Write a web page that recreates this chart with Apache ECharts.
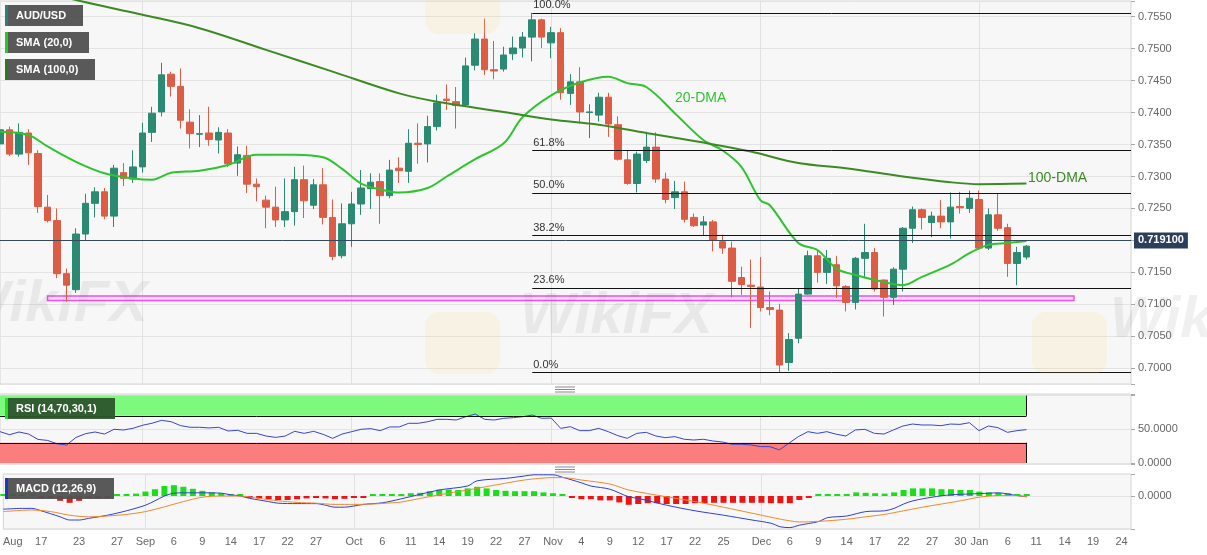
<!DOCTYPE html>
<html>
<head>
<meta charset="utf-8">
<title>AUD/USD daily</title>
<script src="https://cdn.jsdelivr.net/npm/echarts@6/dist/echarts.min.js"></script>
<style>
  html, body { margin: 0; padding: 0; background: #fff; }
  #main { width: 1207px; height: 555px; }
</style>
</head>
<body>
<div id="main"></div>
<script>
// trading days Aug 11 2021 .. Jan 25 2022 (weekdays)
var categories = [];
(function () {
  for (var d = Date.UTC(2021, 7, 11); d <= Date.UTC(2022, 0, 25); d += 864e5) {
    var t = new Date(d), w = t.getUTCDay();
    if (w > 0 && w < 6) categories.push(t.toISOString().slice(0, 10));
  }
})();

// bottom axis labels
var tickDates = ['2021-08-12','2021-08-17','2021-08-23','2021-08-27','2021-09-01','2021-09-06','2021-09-09','2021-09-14',
  '2021-09-17','2021-09-22','2021-09-27','2021-10-01','2021-10-06','2021-10-11','2021-10-14','2021-10-19','2021-10-22',
  '2021-10-27','2021-11-01','2021-11-04','2021-11-09','2021-11-12','2021-11-17','2021-11-22','2021-11-25','2021-12-01',
  '2021-12-06','2021-12-09','2021-12-14','2021-12-17','2021-12-22','2021-12-27','2021-12-30','2022-01-03','2022-01-06',
  '2022-01-11','2022-01-14','2022-01-19','2022-01-24'];
var tickTexts = ['Aug','17','23','27','Sep','6','9','14','17','22','27','Oct','6','11','14','19','22','27','Nov','4','9',
  '12','17','22','25','Dec','6','9','14','17','22','27','30','Jan','6','11','14','19','24'];
var monthLines = ['2021-09-01','2021-10-01','2021-11-01','2021-12-01','2022-01-03'];

// daily candles [open, close, low, high] from Aug 11 2021 to Jan 10 2022
var candles = [
  [0.7351,0.7373,0.7323,0.7390],[0.7373,0.7335,0.7332,0.7378],[0.7335,0.7369,0.7331,0.7383],[0.7368,0.7337,0.7318,0.7374],
  [0.7336,0.7253,0.7243,0.7341],[0.7252,0.7231,0.7228,0.7271],[0.7231,0.7148,0.7141,0.7250],[0.7148,0.7130,0.7104,0.7156],
  [0.7123,0.7210,0.7118,0.7219],[0.7210,0.7258,0.7200,0.7273],[0.7258,0.7276,0.7236,0.7283],[0.7276,0.7238,0.7233,0.7282],
  [0.7238,0.7313,0.7221,0.7318],[0.7306,0.7297,0.7285,0.7321],[0.7296,0.7315,0.7290,0.7341],[0.7315,0.7368,0.7306,0.7384],
  [0.7369,0.7399,0.7354,0.7409],[0.7401,0.7459,0.7394,0.7478],[0.7460,0.7441,0.7425,0.7464],[0.7441,0.7388,0.7375,0.7469],
  [0.7385,0.7367,0.7344,0.7405],[0.7366,0.7367,0.7346,0.7396],[0.7368,0.7358,0.7348,0.7409],[0.7357,0.7369,0.7336,0.7377],
  [0.7368,0.7320,0.7315,0.7374],[0.7321,0.7334,0.7301,0.7347],[0.7333,0.7288,0.7274,0.7348],[0.7288,0.7284,0.7261,0.7297],
  [0.7263,0.7252,0.7219,0.7270],[0.7252,0.7232,0.7221,0.7284],[0.7232,0.7245,0.7221,0.7297],[0.7245,0.7295,0.7223,0.7315],
  [0.7295,0.7262,0.7235,0.7317],[0.7255,0.7287,0.7249,0.7296],[0.7287,0.7236,0.7225,0.7313],[0.7236,0.7175,0.7169,0.7264],
  [0.7176,0.7226,0.7172,0.7258],[0.7226,0.7257,0.7190,0.7276],[0.7257,0.7282,0.7240,0.7310],[0.7281,0.7291,0.7249,0.7305],
  [0.7292,0.7270,0.7226,0.7305],[0.7270,0.7310,0.7266,0.7326],[0.7313,0.7309,0.7290,0.7330],[0.7308,0.7352,0.7290,0.7374],
  [0.7352,0.7350,0.7320,0.7383],[0.7351,0.7378,0.7322,0.7395],[0.7378,0.7415,0.7372,0.7428],[0.7421,0.7419,0.7404,0.7444],
  [0.7417,0.7411,0.7375,0.7440],[0.7412,0.7473,0.7409,0.7486],[0.7474,0.7515,0.7466,0.7524],[0.7515,0.7467,0.7459,0.7547],
  [0.7467,0.7465,0.7452,0.7512],[0.7468,0.7490,0.7464,0.7503],[0.7492,0.7501,0.7482,0.7519],[0.7501,0.7518,0.7486,0.7526],
  [0.7518,0.7545,0.7480,0.7556],[0.7545,0.7518,0.7501,0.7547],[0.7509,0.7525,0.7485,0.7534],[0.7525,0.7431,0.7420,0.7532],
  [0.7430,0.7448,0.7412,0.7460],[0.7448,0.7401,0.7383,0.7471],[0.7400,0.7401,0.7360,0.7413],[0.7396,0.7424,0.7386,0.7431],
  [0.7424,0.7382,0.7362,0.7431],[0.7381,0.7327,0.7325,0.7394],[0.7326,0.7289,0.7287,0.7341],[0.7289,0.7335,0.7275,0.7339],
  [0.7325,0.7346,0.7321,0.7370],[0.7346,0.7296,0.7290,0.7369],[0.7296,0.7264,0.7258,0.7306],[0.7267,0.7276,0.7249,0.7293],
  [0.7276,0.7233,0.7228,0.7292],[0.7236,0.7223,0.7221,0.7242],[0.7224,0.7229,0.7207,0.7238],[0.7229,0.7200,0.7183,0.7232],
  [0.7198,0.7188,0.7179,0.7209],[0.7188,0.7136,0.7111,0.7198],[0.7142,0.7131,0.7115,0.7159],[0.7130,0.7128,0.7063,0.7170],
  [0.7127,0.7095,0.7089,0.7174],[0.7095,0.7092,0.7083,0.7120],[0.7091,0.7005,0.6993,0.7101],[0.7009,0.7045,0.6996,0.7055],
  [0.7047,0.7116,0.7039,0.7124],[0.7116,0.7176,0.7115,0.7184],[0.7176,0.7150,0.7134,0.7184],[0.7150,0.7172,0.7132,0.7185],
  [0.7162,0.7129,0.7110,0.7176],[0.7128,0.7103,0.7089,0.7130],[0.7103,0.7172,0.7092,0.7174],[0.7172,0.7181,0.7141,0.7226],
  [0.7181,0.7124,0.7120,0.7188],[0.7138,0.7111,0.7081,0.7139],[0.7111,0.7155,0.7099,0.7158],[0.7155,0.7219,0.7120,0.7221],
  [0.7219,0.7248,0.7196,0.7253],[0.7248,0.7236,0.7217,0.7250],[0.7228,0.7238,0.7205,0.7245],[0.7238,0.7229,0.7219,0.7263],
  [0.7229,0.7252,0.7203,0.7275],[0.7253,0.7251,0.7242,0.7276],[0.7250,0.7266,0.7243,0.7278],[0.7264,0.7188,0.7185,0.7278],
  [0.7188,0.7240,0.7185,0.7250],[0.7240,0.7219,0.7215,0.7274],[0.7220,0.7164,0.7143,0.7226],[0.7164,0.7181,0.7130,0.7190],
  [0.7174,0.7191,0.7170,0.7193]
];
var lastPrice = 0.7191;

// moving averages: [trading-day index, value]
var sma20 = [[0,0.7370],[3,0.7365],[5,0.7347],[8,0.7323],[11,0.7305],[14,0.7297],[16,0.7295],[18,0.7306],[21,0.7309],
  [24,0.7318],[27,0.7334],[31,0.7334],[34,0.7330],[36,0.7312],[38,0.7289],[40,0.7280],[42,0.7275],[45,0.7282],[47,0.7300],
  [50,0.7327],[53,0.7352],[55,0.7393],[58,0.7427],[61,0.7447],[64,0.7456],[66,0.7446],[68,0.7440],[71,0.7399],[74,0.7357],
  [76,0.7341],[78,0.7315],[80,0.7263],[81,0.7255],[84,0.7196],[86,0.7185],[88,0.7156],[90,0.7146],[93,0.7135],[95,0.7130],
  [97,0.7143],[100,0.7162],[102,0.7180],[104,0.7193],[106,0.7196],[108,0.7199]];
var sma100 = [[0,0.7606],[8,0.7576],[15,0.7553],[21,0.7532],[28,0.7498],[35,0.7464],[42,0.7430],[46,0.7417],[53,0.7401],
  [58,0.7389],[63,0.7381],[68,0.7368],[74,0.7353],[79,0.7339],[84,0.7321],[89,0.7313],[95,0.7300],[100,0.7291],
  [103,0.7288],[108,0.7289]];

// fibonacci retracement
var fibHigh = 0.7556, fibLow = 0.6993, fibStart = '2021-10-28';
var fibRatios = [1, 0.618, 0.5, 0.382, 0.236, 0];
var fibTexts = ['100.0%', '61.8%', '50.0%', '38.2%', '23.6%', '0.0%'];

// support zone
var zoneFrom = '2021-08-18', zoneTo = '2022-01-17', zoneTop = 0.7113, zoneBottom = 0.7106;

// RSI (14)
var rsi = [46.5,42,46,43,35,33.5,28.5,26.7,38,43.5,46,43,50,49,51.5,56,59,63.3,61.3,55.5,53,53,52,53,47.5,48.5,44,44,40,38,
  40,47,44,47,42.5,36.6,43,46.5,50,51,48,53.5,53.5,58.9,58.9,61.3,64.8,64.8,63.8,68.7,72.6,64.8,63.8,66.3,67.3,68.7,71.2,
  66.3,66.7,51.4,53.9,48,48,51.4,46.5,40.6,36.6,44,45.5,40.1,37.6,39.1,35.2,34.1,35.2,32.7,31.2,27.8,27.8,26.8,24.3,24.3,
  19.4,29.3,39.1,46.5,44,46.5,42.6,40.1,49,50,44,43,49,54.9,57.8,56.4,56.4,55.4,57.8,57.3,59.8,48,54.9,52.4,45.5,48,49.5];

// MACD (12,26,9)
var macdLine = [[0,-0.0033],[2,-0.0031],[3,-0.0031],[4,-0.0037],[6,-0.0052],[7,-0.0060],[8,-0.0060],[9,-0.0056],[11,-0.0048],
  [13,-0.0037],[15,-0.0023],[16,-0.0012],[17,0],[18,0.0007],[19,0.0008],[21,0.0008],[23,0.0007],[24,0.0003],[25,0],
  [26,-0.0006],[27,-0.0010],[28,-0.0014],[29,-0.0018],[31,-0.0019],[33,-0.0019],[34,-0.0023],[35,-0.0028],[36,-0.0028],
  [37,-0.0025],[38,-0.0021],[40,-0.0017],[42,-0.0007],[46,0.0015],[49,0.0025],[50,0.0038],[53,0.0044],[55,0.0050],
  [56,0.0053],[58,0.0053],[59,0.0047],[61,0.0033],[62,0.0025],[64,0.0017],[66,-0.0002],[67,-0.0006],[70,-0.0023],
  [73,-0.0037],[76,-0.0048],[79,-0.0060],[81,-0.0068],[82,-0.0077],[83,-0.0079],[84,-0.0073],[86,-0.0064],[87,-0.0054],
  [89,-0.0050],[91,-0.0039],[93,-0.0037],[94,-0.0031],[95,-0.0020],[96,-0.0012],[98,-0.0003],[100,0.0003],[102,0.0005],
  [104,0.0007],[105,0.0008],[106,0.0005],[107,0.0001],[108,-0.0002]];
var signalLine = [[0,-0.0039],[3,-0.0035],[5,-0.0039],[7,-0.0048],[9,-0.0052],[11,-0.0050],[13,-0.0046],[15,-0.0039],
  [17,-0.0027],[19,-0.0014],[21,-0.0003],[23,0],[25,0],[27,-0.0006],[29,-0.0012],[31,-0.0016],[33,-0.0018],[35,-0.0021],
  [37,-0.0021],[39,-0.0020],[41,-0.0017],[42,-0.0015],[46,0.0003],[49,0.0015],[53,0.0032],[55,0.0040],[58,0.0046],
  [59,0.0046],[61,0.0040],[64,0.0030],[66,0.0015],[70,-0.0002],[73,-0.0014],[76,-0.0028],[79,-0.0043],[81,-0.0053],
  [82,-0.0058],[83,-0.0062],[84,-0.0065],[87,-0.0062],[89,-0.0058],[91,-0.0052],[93,-0.0046],[95,-0.0037],[97,-0.0028],
  [99,-0.0020],[101,-0.0012],[103,-0.0003],[105,0.0001],[107,0.0001],[108,-0.0002]];
var macdHist = [0.0002,0.0002,0.0002,0.0002,-0.0001,-0.0003,-0.0012,-0.0017,-0.0012,-0.0005,
  -0.0002,-0.0001,0.0002,0.0004,0.0006,0.0011,0.0017,0.0025,0.0027,0.0023,
  0.0018,0.0013,0.0009,0.0007,0.0003,0.0001,-0.0002,-0.0006,-0.0008,-0.0010,
  -0.0010,-0.0008,-0.0006,-0.0004,-0.0006,-0.0008,-0.0007,-0.0004,-0.0001,0.0001,
  0.0002,0.0003,0.0004,0.0007,0.0008,0.0012,0.0016,0.0016,0.0015,0.0019,
  0.0023,0.0019,0.0015,0.0013,0.0012,0.0012,0.0012,0.0009,0.0007,0.0001,
  -0.0002,-0.0008,-0.0008,-0.0011,-0.0011,-0.0016,-0.0022,-0.0020,-0.0018,-0.0018,
  -0.0020,-0.0020,-0.0020,-0.0018,-0.0018,-0.0017,-0.0017,-0.0017,-0.0017,-0.0017,
  -0.0017,-0.0018,-0.0018,-0.0018,-0.0010,
  -0.0001,0.0001,0.0003,0.0004,0.0005,0.0009,0.0008,0.0007,0.0006,0.0009,
  0.0015,0.0019,0.0019,0.0019,0.0017,0.0017,0.0015,0.0015,0.0011,0.0009,
  0.0008,0.0007,0.0003,0.0001];

var FONT = 'Arial, "Liberation Sans", sans-serif';
var firstDay = categories[0];
var lastDay = categories[candles.length - 1];
var rightEdge = categories[categories.length - 1];

function panelGrid(top, height) {
  return { left: 0, top: top, width: 1131, height: height, show: true,
    backgroundColor: '#f7f7f7', borderColor: '#d4d4d4', borderWidth: 1 };
}

function xAx(g) {
  return {
    type: 'category', gridIndex: g, data: categories, boundaryGap: false,
    axisLine: { show: false }, axisTick: { show: false },
    axisLabel: g === 2 ? {
      show: true, margin: 7, color: '#666', fontSize: 11, fontFamily: FONT,
      interval: function (i, v) { return tickDates.indexOf(v) >= 0; },
      formatter: function (v) { var k = tickDates.indexOf(v); return k >= 0 ? tickTexts[k] : ''; }
    } : { show: false },
    splitLine: { show: true, interval: function (i, v) { return monthLines.indexOf(v) >= 0; },
      lineStyle: { color: '#e1e1e1', width: 1 } }
  };
}

function yAx(g, min, max, step, fmt) {
  return {
    type: 'value', gridIndex: g, position: 'right', min: min, max: max, scale: true,
    splitNumber: Math.round((max - min) / step), minInterval: step, maxInterval: step,
    axisLine: { show: false },
    axisTick: { show: true, length: 4, lineStyle: { color: '#aaa' } },
    axisLabel: { margin: 7, color: '#666', fontSize: 11, fontFamily: FONT, formatter: fmt },
    splitLine: { lineStyle: { color: '#e3e3e3' } }
  };
}

var fibMarks = fibRatios.map(function (r, k) {
  var p = fibLow + r * (fibHigh - fibLow);
  return [
    { coord: [fibStart, p], label: { show: true, formatter: fibTexts[k] } },
    { coord: [rightEdge, p] }
  ];
});
fibMarks.push({
  yAxis: lastPrice,
  lineStyle: { color: '#34495e', width: 1, type: 'solid' },
  label: { show: true, position: 'end', distance: 3, formatter: lastPrice.toFixed(6),
    backgroundColor: '#2c3e5c', color: '#fff', fontWeight: 'bold', fontSize: 11, fontFamily: FONT, padding: [3, 4, 2, 4] }
});

function box(x, y, w, label, bg, stripe) {
  return [
    { type: 'rect', z: 100, shape: { x: x, y: y, width: w, height: 21 }, style: { fill: bg } },
    { type: 'rect', z: 101, shape: { x: x, y: y, width: 3, height: 21 }, style: { fill: stripe } },
    { type: 'text', z: 102, x: x + 11, y: y + 11, style: { text: label, fill: '#fff', font: 'bold 11px ' + FONT, verticalAlign: 'middle' } }
  ];
}

function handle(y) {
  return [0, 2.5, 5].map(function (d) {
    return { type: 'line', z: 100, shape: { x1: 555, y1: y + d, x2: 575, y2: y + d }, style: { stroke: '#8a8a8a', lineWidth: 1 } };
  });
}

var wm = 'rgba(110,110,110,0.10)';
var graphics = [].concat(
  box(5, 5, 78, 'AUD/USD', 'rgba(75,75,75,0.92)', '#2a7f7a'),
  box(5, 32, 84, 'SMA (20,0)', 'rgba(75,75,75,0.92)', '#22cc22'),
  box(5, 59, 90, 'SMA (100,0)', 'rgba(75,75,75,0.92)', '#2d7a1e'),
  box(5, 398, 110, 'RSI (14,70,30,1)', 'rgba(45,85,45,0.95)', '#22dd22'),
  box(5, 478, 109, 'MACD (12,26,9)', 'rgba(80,80,80,0.95)', '#2233cc'),
  handle(387), handle(467),
  [
    { type: 'text', z: 90, x: 675, y: 98, style: { text: '20-DMA', fill: '#34c234', font: '14px ' + FONT, verticalAlign: 'middle' } },
    { type: 'text', z: 90, x: 1028, y: 178, style: { text: '100-DMA', fill: '#3d8b27', font: '14px ' + FONT, verticalAlign: 'middle' } },
    { type: 'rect', z: 95, shape: { x: 425, y: 312, width: 75, height: 62, r: 14 }, style: { fill: 'rgba(248,215,110,0.14)' } },
    { type: 'rect', z: 95, shape: { x: 1032, y: 312, width: 75, height: 62, r: 14 }, style: { fill: 'rgba(248,215,110,0.14)' } },
    { type: 'rect', z: 95, shape: { x: 425, y: -28, width: 75, height: 62, r: 14 }, style: { fill: 'rgba(248,215,110,0.14)' } },
    { type: 'text', z: 95, x: -45, y: 276, style: { text: 'WikiFX', fill: wm, font: 'italic bold 58px ' + FONT } },
    { type: 'text', z: 95, x: 520, y: 288, style: { text: 'WikiFX', fill: wm, font: 'italic bold 58px ' + FONT } },
    { type: 'text', z: 95, x: 1110, y: 292, style: { text: 'WikiFX', fill: wm, font: 'italic bold 58px ' + FONT } }
  ]
);

var option = {
  animation: false,
  backgroundColor: '#ffffff',
  textStyle: { fontFamily: FONT },
  grid: [panelGrid(1, 383), panelGrid(394, 70), panelGrid(474, 55)],
  xAxis: [xAx(0), xAx(1), xAx(2)],
  yAxis: [
    yAx(0, 0.69754, 0.75745, 0.005, function (v) {
      var r = Math.round(v / 0.005) * 0.005;
      return Math.abs(r - v) < 1e-7 ? v.toFixed(4) : '';
    }),
    yAx(1, -1.5, 102.4, 50, function (v) { return (Math.abs(v) < 1e-9 || Math.abs(v - 50) < 1e-9) ? v.toFixed(4) : ''; }),
    yAx(2, -0.00825, 0.0055, 0.01, function (v) { return Math.abs(v) < 1e-9 ? '0.0000' : ''; })
  ],
  graphic: graphics,
  series: [
    {
      name: 'AUD/USD', type: 'candlestick', xAxisIndex: 0, yAxisIndex: 0, data: candles, barWidth: 7,
      itemStyle: { color: '#2b8a72', color0: '#dd5c45', borderColor: '#2b8a72', borderColor0: '#dd5c45', borderWidth: 1 },
      markLine: {
        silent: true, symbol: 'none', animation: false,
        lineStyle: { color: '#111', width: 1, type: 'solid' },
        label: { show: true, position: 'insideStartTop', distance: [1, 2], color: '#333', fontSize: 11, fontFamily: FONT },
        emphasis: { disabled: true },
        data: fibMarks
      },
      markArea: {
        silent: true,
        itemStyle: { color: 'rgba(255,170,255,0.35)', borderColor: '#ec4fec', borderWidth: 1.5 },
        data: [[{ coord: [zoneFrom, zoneTop] }, { coord: [zoneTo, zoneBottom] }]]
      }
    },
    {
      name: 'SMA (20,0)', type: 'line', xAxisIndex: 0, yAxisIndex: 0, data: sma20, smooth: 0.35,
      showSymbol: false, silent: true, lineStyle: { color: '#2fc42f', width: 2 }
    },
    {
      name: 'SMA (100,0)', type: 'line', xAxisIndex: 0, yAxisIndex: 0, data: sma100, smooth: 0.35,
      showSymbol: false, silent: true, lineStyle: { color: '#3b8a24', width: 2 }
    },
    {
      name: 'RSI', type: 'line', xAxisIndex: 1, yAxisIndex: 1, data: rsi, showSymbol: false, silent: true,
      lineStyle: { color: '#3644cf', width: 1 },
      markArea: {
        silent: true,
        data: [
          [{ coord: [firstDay, 70], itemStyle: { color: '#7dfa7d' } }, { coord: [lastDay, 100] }],
          [{ coord: [firstDay, 0], itemStyle: { color: '#fb7e7e' } }, { coord: [lastDay, 30] }]
        ]
      },
      markLine: {
        silent: true, symbol: 'none', label: { show: false },
        lineStyle: { color: '#111', width: 1, type: 'solid' },
        data: [
          [{ coord: [firstDay, 70] }, { coord: [lastDay, 70] }],
          [{ coord: [firstDay, 30] }, { coord: [lastDay, 30] }],
          [{ coord: [lastDay, 70] }, { coord: [lastDay, 100] }],
          [{ coord: [lastDay, 0] }, { coord: [lastDay, 30] }]
        ]
      }
    },
    {
      name: 'Histogram', type: 'bar', xAxisIndex: 2, yAxisIndex: 2, barWidth: 6, barMinHeight: 2, silent: true,
      data: macdHist.map(function (v) {
        return { value: v, itemStyle: { color: v >= 0 ? '#17e017' : '#ee1414' } };
      })
    },
    {
      name: 'MACD', type: 'line', xAxisIndex: 2, yAxisIndex: 2, data: macdLine, smooth: 0.3,
      showSymbol: false, silent: true, lineStyle: { color: '#2f3fd0', width: 1 }
    },
    {
      name: 'Signal', type: 'line', xAxisIndex: 2, yAxisIndex: 2, data: signalLine, smooth: 0.3,
      showSymbol: false, silent: true, lineStyle: { color: '#f08a2c', width: 1 }
    }
  ]
};

var chart = echarts.init(document.getElementById('main'));
chart.setOption(option);
</script>
</body>
</html>
